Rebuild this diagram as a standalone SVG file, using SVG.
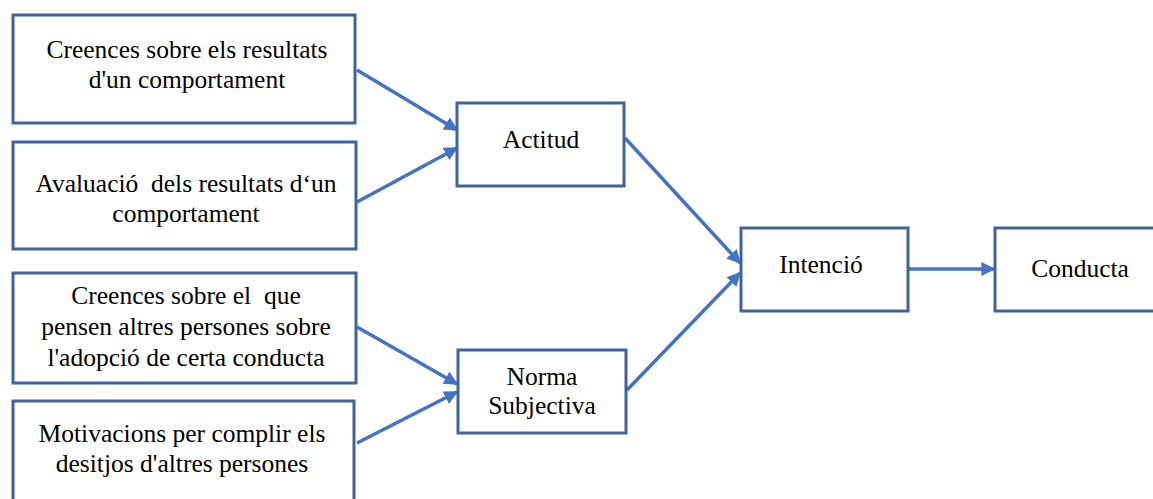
<svg xmlns="http://www.w3.org/2000/svg" width="1153" height="499" viewBox="0 0 1153 499">
  <style>
    .box { fill: #ffffff; stroke: #41639C; stroke-width: 3; }
    .lbl { font-family: "Liberation Serif", "Times New Roman", serif; font-size: 25.5px; fill: #000000; text-anchor: middle; white-space: pre; }
    .conn { fill: none; stroke: #4472C4; stroke-width: 3.5; marker-end: url(#head); }
  </style>
  <defs>
    <marker id="head" viewBox="0 0 10 10" refX="9" refY="5" markerWidth="4" markerHeight="4" orient="auto" markerUnits="strokeWidth">
      <path d="M0,0 L10,5 L0,10 Z" fill="#4472C4"/>
    </marker>
  </defs>
  <rect width="1153" height="499" fill="#ffffff"/>

  <g id="connectors">
    <line class="conn" x1="357" y1="70" x2="457" y2="130"/>
    <line class="conn" x1="357" y1="202" x2="457" y2="148"/>
    <line class="conn" x1="357" y1="327" x2="457" y2="384"/>
    <line class="conn" x1="357" y1="443" x2="457" y2="392"/>
    <line class="conn" x1="625" y1="138" x2="740" y2="263"/>
    <line class="conn" x1="627" y1="390" x2="740" y2="273"/>
    <line class="conn" x1="909" y1="269" x2="994" y2="269"/>
  </g>

  <g id="creences-resultats">
    <rect class="box" x="13" y="15" width="342" height="108"/>
    <text class="lbl" x="187" y="58">Creences sobre els resultats</text>
    <text class="lbl" x="187" y="88">d'un comportament</text>
  </g>

  <g id="avaluacio-resultats">
    <rect class="box" x="13" y="142" width="343" height="107"/>
    <text class="lbl" x="186" y="192" xml:space="preserve">Avaluació  dels resultats d‘un</text>
    <text class="lbl" x="186" y="222">comportament</text>
  </g>

  <g id="creences-altres">
    <rect class="box" x="13" y="273" width="343" height="110"/>
    <text class="lbl" x="186" y="304" xml:space="preserve">Creences sobre el  que</text>
    <text class="lbl" x="186" y="335">pensen altres persones sobre</text>
    <text class="lbl" x="186" y="366">l'adopció de certa conducta</text>
  </g>

  <g id="motivacions">
    <rect class="box" x="13" y="401" width="341" height="110"/>
    <text class="lbl" x="182" y="442">Motivacions per complir els</text>
    <text class="lbl" x="182" y="472">desitjos d'altres persones</text>
  </g>

  <g id="actitud">
    <rect class="box" x="457" y="103" width="167" height="83"/>
    <text class="lbl" x="541" y="148">Actitud</text>
  </g>

  <g id="norma-subjectiva">
    <rect class="box" x="458" y="350" width="168" height="83"/>
    <text class="lbl" x="542" y="385">Norma</text>
    <text class="lbl" x="542" y="414">Subjectiva</text>
  </g>

  <g id="intencio">
    <rect class="box" x="741" y="228" width="167" height="83"/>
    <text class="lbl" x="821" y="273">Intenció</text>
  </g>

  <g id="conducta">
    <rect class="box" x="995" y="228" width="170" height="83"/>
    <text class="lbl" x="1080" y="277">Conducta</text>
  </g>
</svg>
